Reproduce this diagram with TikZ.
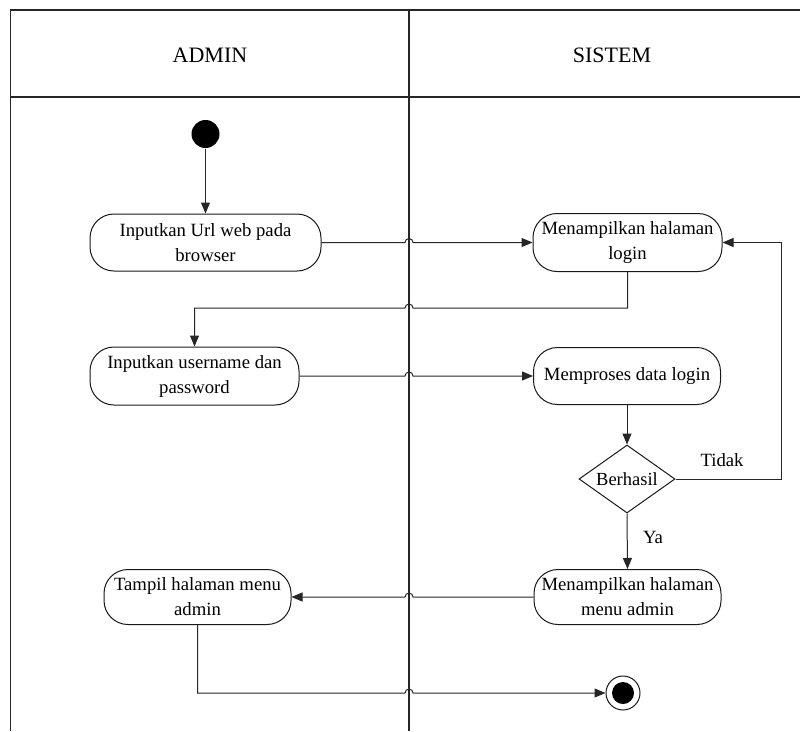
\documentclass[tikz,border=0pt]{standalone}
\usepackage{fontspec}
\setmainfont{Liberation Serif}
\usetikzlibrary{arrows.meta,shapes.geometric}
\begin{document}
\begin{tikzpicture}[x=1pt,y=-1pt,
  line width=1pt,
  frame/.style={line width=1.1pt, draw=black!85},
  conn/.style={draw=black!85, line width=1pt},
  arr/.style={conn, -{Triangle[length=11pt,width=9pt]}},
  act/.style={draw=black!90, line width=1pt, rounded corners=24pt, align=center, inner sep=2pt,
              font=\fontsize{18.7}{25}\selectfont},
  dec/.style={draw=black!90, line width=1pt, diamond, aspect=1.41, inner sep=0pt,
              minimum width=96pt, minimum height=68pt, font=\fontsize{18.5}{22}\selectfont},
  lab/.style={font=\fontsize{18.7}{22}\selectfont},
  hdr/.style={font=\fontsize{22}{26}\selectfont, anchor=base}]
\useasboundingbox (0,0) rectangle (800,731);
\fill[white] (0,0) rectangle (800,731);
% swimlane frame
\coordinate (tl) at (10.7,10);
\coordinate (tr) at (800,10);
\coordinate (hl) at (10.7,97);
\coordinate (hr) at (800,97);
\coordinate (bl) at (10.7,731);
\coordinate (dt) at (409,10);
\coordinate (db) at (409,731);
\draw[frame] (bl) -- (tl) -- (tr);
\draw[frame] (hl) -- (hr);
\draw[frame] (dt) -- (db);
\node[hdr] (hadmin) at (210,62) {ADMIN};
\node[hdr] (hsistem) at (612,62) {SISTEM};
% nodes
\node[circle, fill=black, minimum size=28pt, inner sep=0pt] (start) at (205.5,134) {};
\node[act, minimum width=231pt, minimum height=57pt] (url) at (205.5,242.5) {Inputkan Url web pada\\browser};
\node[act, minimum width=189pt, minimum height=58pt] (login) at (627.5,242.5) {Menampilkan halaman\\login};
\node[act, minimum width=209pt, minimum height=58pt] (user) at (194.5,376) {Inputkan username dan\\password};
\node[act, minimum width=187pt, minimum height=57pt] (proses) at (627,376) {Memproses data login};
\node[dec] (cek) at (627,479) {Berhasil};
\node[act, minimum width=187pt, minimum height=55pt] (menu) at (627.5,597) {Menampilkan halaman\\menu admin};
\node[act, minimum width=187pt, minimum height=55pt] (tampil) at (197.5,597) {Tampil halaman menu\\admin};
\node[circle, draw=black!90, line width=1pt, minimum size=34pt, inner sep=0pt] (end) at (623,693) {};
\fill[black] (end.center) circle (11);
% connectors
\draw[arr] (start.south) -- (url.north);
\draw[arr] (url.east) -- (405,242.5) arc[start angle=180, end angle=360, radius=4] -- (login.west);
\draw[arr] (login.south) -- (627.5,308) -- (413,308) arc[start angle=0, end angle=-180, radius=4] -- (194.5,308) -- (user.north);
\draw[arr] (user.east) -- (405,376) arc[start angle=180, end angle=360, radius=4] -- (proses.west);
\draw[arr] (proses.south) -- (cek.north);
\draw[arr] (cek.east) -- (781,479) -- (781,242.5) -- (login.east);
\node[lab] (tidak) at (722,460) {Tidak};
\draw[arr] (cek.south) -- (menu.north);
\node[lab] (ya) at (653,537) {Ya};
\draw[arr] (menu.west) -- (413,597) arc[start angle=0, end angle=-180, radius=4] -- (tampil.east);
\draw[arr] (tampil.south) -- (197.5,693) -- (405,693) arc[start angle=180, end angle=360, radius=4] -- (end.west);
\end{tikzpicture}
\end{document}
